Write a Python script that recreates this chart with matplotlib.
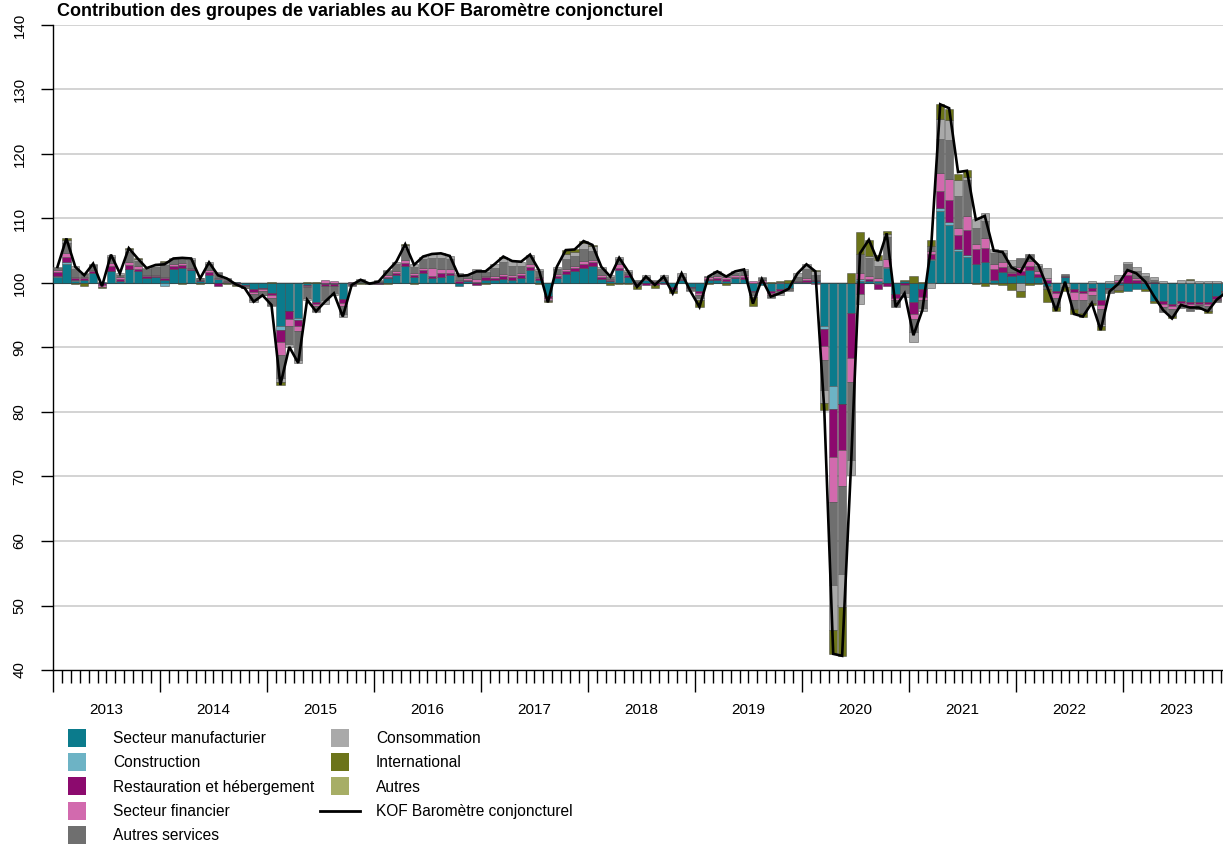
import numpy as np
import matplotlib
matplotlib.use("Agg")
import matplotlib.pyplot as plt
from matplotlib.lines import Line2D
import matplotlib.transforms as mtransforms

plt.rcParams['font.family'] = ['Liberation Sans', 'DejaVu Sans']

# ---------------- data (monthly, Jan 2013 - Dec 2023) ----------------
years = list(range(2013, 2024))

kof = [
    102.5, 106.9, 102.5, 101.2, 103.0, 99.5, 104.4, 101.5, 105.4, 103.8, 102.3, 102.8,   # 2013
    102.9, 103.8, 103.9, 103.8, 100.7, 103.2, 101.2, 100.7, 99.8, 99.2, 97.1, 98.1,       # 2014
    96.6, 84.2, 90.1, 87.6, 97.4, 95.6, 97.1, 98.4, 94.8, 99.7, 100.5, 99.9,              # 2015
    100.2, 101.8, 103.3, 106.0, 102.8, 104.1, 104.5, 104.6, 104.2, 101.1, 101.2, 101.8,   # 2016
    101.8, 102.9, 104.1, 103.4, 103.3, 104.4, 102.0, 97.0, 102.5, 105.1, 105.2, 106.5,    # 2017
    105.9, 102.5, 101.0, 103.9, 101.8, 99.4, 101.0, 99.7, 101.0, 98.4, 101.5, 98.7,       # 2018
    96.3, 101.0, 101.8, 101.0, 101.8, 102.1, 96.8, 100.6, 97.9, 98.4, 99.1, 101.5,        # 2019
    102.9, 101.8, 80.3, 42.5, 42.2, 71.8, 104.6, 106.7, 103.4, 107.7, 96.3, 98.4,         # 2020
    91.9, 95.8, 105.9, 127.7, 127.1, 117.2, 117.4, 109.8, 110.4, 105.0, 104.8, 102.4,     # 2021
    101.7, 104.2, 102.8, 99.4, 95.7, 100.2, 95.2, 94.8, 96.9, 92.7, 98.7, 99.9,           # 2022
    102.0, 101.5, 100.2, 97.9, 95.8, 94.5, 96.6, 96.2, 96.2, 95.6, 97.4, 98.5,            # 2023
]

manufacturier = [
    1.0, 3.0, 0.3, 0.5, 1.5, 0.2, 1.8, 0.3, 2.1, 1.8, 0.8, 0.9,
    0.5, 2.2, 2.4, 2.0, 0.3, 1.3, 0.6, 0.1, 0.1, -0.3, -1.0, -0.8,
    -1.5, -6.7, -4.3, -5.5, -0.3, -3.0, -0.2, -0.2, -2.5, -0.1, 0.1, 0.1,
    0.2, 0.8, 1.2, 2.6, 1.0, 1.6, 0.7, 1.0, 1.2, -0.5, 0.3, 0.2,
    0.5, 0.4, 0.6, 0.5, 0.8, 2.0, 0.4, -2.0, 0.8, 1.4, 1.8, 2.3,
    2.7, 0.6, 0.3, 2.0, 1.0, -0.2, 0.4, 0.2, 0.3, -0.6, 0.5, -0.6,
    -1.3, 0.4, 0.4, 0.3, 0.8, 0.6, -1.2, -0.3, -1.3, -1.0, -0.8, 0.2,
    0.2, 0.3, -6.6, -16.0, -18.7, -4.7, 0.3, 0.3, 0.3, 2.3, -1.7, 0.3,
    -3.0, -1.0, 3.5, 11.2, 9.0, 5.0, 4.0, 2.9, 3.2, 0.4, 1.7, 1.1,
    1.2, 2.0, 0.9, -0.4, -1.3, 0.9, -1.0, -1.3, -0.8, -2.6, -0.8, -0.3,
    -1.3, -1.0, -1.0, -2.8, -2.8, -3.3, -2.8, -2.9, -2.9, -3.0, -2.0, -1.2,
]
construction = [
    0.1, 0.2, 0.1, 0.0, 0.0, 0.0, 0.1, 0.0, 0.1, 0.0, 0.0, 0.0,
    -0.5, 0.0, 0.0, 0.0, 0.0, 0.0, 0.0, 0.0, 0.0, 0.0, 0.0, 0.0,
    0.0, -0.6, -0.1, -0.2, 0.0, 0.0, 0.0, 0.0, 0.0, 0.0, 0.0, 0.0,
    0.0, 0.0, 0.0, 0.0, 0.0, 0.0, 0.0, 0.0, 0.0, 0.0, 0.0, 0.0,
    0.0, 0.0, 0.0, 0.0, 0.0, 0.0, 0.0, 0.0, 0.0, 0.0, 0.0, 0.0,
    0.0, 0.0, 0.0, 0.0, 0.0, 0.0, 0.0, 0.0, 0.0, 0.0, 0.0, 0.0,
    0.0, 0.0, 0.0, 0.0, 0.0, 0.0, 0.0, 0.0, 0.0, 0.0, 0.0, 0.0,
    0.0, 0.0, -0.5, -3.6, -0.1, 0.0, 0.3, 0.0, -0.1, 0.2, 0.0, 0.0,
    0.0, 0.0, 0.2, 0.5, 0.4, 0.3, 0.3, 0.0, 0.0, 0.0, 0.0, 0.0,
    0.0, 0.0, 0.0, 0.0, 0.0, 0.0, 0.0, 0.0, 0.0, 0.0, 0.0, 0.0,
    0.0, 0.0, 0.0, 0.0, 0.0, 0.0, 0.0, 0.0, 0.0, 0.0, 0.0, 0.0,
]
restauration = [
    0.6, 0.8, 0.3, 0.3, 0.3, -0.3, 0.8, 0.3, 0.6, 0.4, 0.3, 0.2,
    0.3, 0.4, 0.4, 0.2, 0.1, 0.4, -0.5, 0.1, -0.2, -0.1, -0.4, -0.2,
    -0.4, -1.8, -1.2, -1.0, -0.2, -0.3, -0.3, -0.2, -0.6, -0.2, 0.0, 0.0,
    -0.1, 0.2, 0.4, 0.5, 0.3, 0.4, 0.4, 0.5, 0.4, 0.3, 0.2, -0.3,
    0.4, 0.4, 0.5, 0.4, 0.4, 0.5, 0.4, -0.3, 0.3, 0.4, 0.5, 0.7,
    0.5, 0.4, 0.2, 0.4, 0.2, -0.1, -0.3, -0.3, -0.2, -0.3, 0.1, -0.2,
    -0.3, 0.2, 0.3, 0.3, 0.2, 0.3, -0.2, 0.2, -0.2, -0.2, 0.0, 0.1,
    0.3, 0.2, -2.6, -7.4, -7.1, -7.0, -1.7, 0.3, -0.8, -0.4, -0.6, -0.3,
    -1.8, -1.2, 0.8, 2.6, 3.5, 2.2, 3.9, 2.3, 2.3, 1.8, 0.8, 0.4,
    0.6, 0.6, 0.5, 0.5, -0.3, 0.2, -0.4, -0.3, -0.5, -0.8, -0.2, 0.2,
    1.2, 0.4, 0.2, 0.2, -0.4, -0.3, -0.3, -0.4, -0.3, -0.3, -0.5, -0.2,
]
financier = [
    0.3, 0.6, 0.3, 0.2, 0.2, -0.3, 0.4, 0.3, 0.4, 0.4, 0.2, 0.2,
    0.2, 0.3, 0.3, 0.2, 0.0, 0.3, 0.2, 0.1, 0.1, 0.0, -0.3, -0.2,
    -0.4, -2.0, -1.0, -0.8, -0.1, -0.2, 0.4, 0.3, -0.5, 0.1, 0.0, 0.0,
    0.0, 0.3, 0.3, 0.4, 0.2, 0.3, 1.2, 0.6, 0.6, 0.2, 0.2, 0.4,
    0.2, 0.3, 0.3, 0.3, 0.3, 0.5, 0.2, -0.3, 0.3, 0.3, 0.3, 0.4,
    0.3, 0.3, 0.1, 0.5, 0.2, 0.2, 0.2, 0.1, 0.2, 0.0, 0.0, 0.0,
    -0.2, 0.3, 0.4, 0.3, 0.2, 0.3, 0.3, 0.2, -0.3, 0.2, 0.0, 0.0,
    0.2, -0.2, -2.2, -6.9, -5.6, -3.6, 1.0, 0.5, 0.4, 1.2, -0.3, 0.0,
    -0.8, -0.4, 0.5, 2.7, 3.3, 1.1, 2.2, 0.8, 1.4, 0.7, 0.8, 0.2,
    0.7, 0.8, 0.4, 0.3, -0.8, 0.0, -1.2, -1.0, -0.5, -0.7, 0.0, 0.2,
    0.7, 0.3, 0.1, 0.0, -0.5, -0.4, -0.3, -0.3, -0.2, -0.2, -0.2, 0.0,
]
autres_services = [
    0.4, 1.6, 1.2, 0.4, 0.8, 0.0, 1.0, 0.4, 1.6, 0.8, 0.8, 1.2,
    1.8, 0.8, 0.8, 1.2, 0.3, 1.0, 0.7, 0.3, -0.1, -0.3, -1.0, -0.6,
    -1.1, -3.7, -2.9, -4.5, -1.8, -0.8, -2.2, -1.1, -1.2, -0.2, 0.2, -0.1,
    0.1, 0.5, 1.0, 1.8, 1.0, 1.4, 1.6, 1.8, 1.5, 0.7, 0.4, 1.1,
    0.6, 1.2, 1.8, 1.5, 1.2, 1.0, 0.8, 0.0, 0.8, 1.6, 1.6, 1.8,
    1.5, 0.9, 0.4, 0.8, 0.3, 0.2, 0.4, 0.0, 0.4, -0.4, 0.4, -0.3,
    -0.6, 0.2, 0.5, 0.3, 0.4, 0.6, -0.5, 0.3, -0.3, -0.4, -0.3, 0.7,
    1.5, 0.8, -4.7, -12.9, -13.6, -12.1, 2.9, 2.8, 2.0, 3.4, -1.1, -1.2,
    -2.0, -1.2, 0.8, 5.3, 6.0, 4.9, 5.6, 2.6, 2.7, 1.7, 1.3, 1.0,
    1.4, 1.1, 0.8, -0.6, -1.3, 0.3, -1.3, -1.9, -1.3, -2.3, -0.6, -0.8,
    1.0, 1.2, 0.8, 0.3, -0.8, -1.0, -0.5, -0.8, -0.6, -0.8, -0.2, -0.3,
]
consommation = [
    0.1, 0.5, 0.5, 0.2, 0.2, 0.0, 0.3, 0.2, 0.4, 0.3, 0.2, 0.3,
    0.4, 0.1, 0.1, 0.2, 0.1, 0.2, 0.2, 0.2, 0.0, 0.0, -0.2, -0.1,
    -0.2, -0.5, -0.4, -0.4, -0.3, -0.2, -0.6, -0.4, -0.4, 0.1, 0.3, -0.1,
    0.1, 0.2, 0.4, 0.6, 0.5, 0.4, 0.6, 0.7, 0.5, 0.4, 0.1, 0.4,
    0.3, 0.6, 0.7, 0.7, 0.6, 0.4, 0.4, -0.2, 0.3, 0.8, 0.6, 1.0,
    0.7, 0.3, 0.3, 0.3, 0.3, -0.2, 0.3, 0.2, 0.3, 0.0, 0.5, -0.2,
    -0.2, 0.0, 0.2, 0.1, 0.2, 0.3, -0.2, 0.2, -0.2, -0.3, -0.2, 0.5,
    0.7, 0.5, -2.0, -7.0, -5.1, -2.4, -1.6, 0.3, 0.8, 0.5, 0.0, -0.6,
    -1.6, -0.6, -0.7, 3.1, 3.1, 2.4, 0.5, 1.3, 1.3, 0.6, 0.5, 0.8,
    -1.2, 0.0, 0.4, 1.5, 0.0, -0.6, -0.2, -0.2, 0.3, -0.2, 0.3, 0.9,
    0.4, 0.6, 0.4, 0.5, 0.3, -0.1, 0.5, 0.4, 0.3, 0.3, 0.3, 0.2,
]
international = [
    0.0, 0.2, -0.2, -0.4, 0.0, -0.1, 0.0, 0.0, 0.2, 0.1, 0.0, 0.0,
    0.2, 0.0, -0.1, 0.0, -0.1, 0.0, 0.0, -0.1, -0.1, -0.1, 0.0, 0.0,
    0.2, -0.5, 0.0, 0.0, 0.1, 0.1, 0.0, 0.0, 0.0, 0.0, -0.1, 0.0,
    -0.1, -0.2, 0.0, 0.1, -0.2, 0.0, 0.0, 0.0, 0.0, 0.0, 0.0, 0.0,
    -0.2, 0.0, 0.2, 0.0, 0.0, 0.0, -0.2, -0.2, 0.0, 0.6, 0.4, 0.3,
    0.2, 0.0, -0.3, -0.1, -0.2, -0.5, 0.0, -0.5, 0.0, -0.3, 0.0, 0.0,
    -1.1, -0.1, 0.0, -0.3, 0.0, 0.0, -1.4, 0.0, 0.2, 0.1, 0.4, 0.0,
    0.0, 0.2, -1.1, -3.7, -7.6, 1.6, 3.4, 2.5, 0.8, 0.5, 0.0, 0.2,
    1.1, 0.2, 0.8, 2.3, 1.7, 1.0, 1.0, -0.1, -0.5, -0.2, -0.3, -1.1,
    -1.0, -0.3, -0.2, -1.9, -0.6, -0.6, -0.7, -0.5, -0.3, -0.7, 0.0, -0.3,
    0.0, 0.0, -0.3, -0.3, 0.0, -0.4, 0.0, 0.2, -0.1, -0.4, 0.0, 0.0,
]
autres = [
    0.0, 0.0, 0.0, 0.0, 0.0, 0.0, 0.0, 0.0, 0.0, 0.0, 0.0, 0.0,
    0.0, 0.0, 0.0, 0.0, 0.0, 0.0, 0.0, 0.0, 0.0, 0.0, 0.0, 0.0,
    0.0, 0.0, 0.0, 0.0, 0.0, 0.0, 0.0, 0.0, 0.0, 0.0, 0.0, 0.0,
    0.0, 0.0, 0.0, 0.0, 0.0, 0.0, 0.0, 0.0, 0.0, 0.0, 0.0, 0.0,
    0.0, 0.0, 0.0, 0.0, 0.0, 0.0, 0.0, 0.0, 0.0, 0.0, 0.0, 0.0,
    0.0, 0.0, 0.0, 0.0, 0.0, 0.0, 0.0, 0.0, 0.0, 0.0, 0.0, 0.0,
    0.0, 0.0, 0.0, 0.0, 0.0, 0.0, 0.0, 0.0, 0.0, 0.0, 0.0, 0.0,
    0.0, 0.0, 0.0, 0.0, 0.0, 0.0, 0.0, 0.0, 0.0, 0.0, 0.0, 0.0,
    0.0, 0.0, 0.0, 0.0, 0.0, 0.0, 0.0, 0.0, 0.0, 0.0, 0.0, 0.0,
    0.0, 0.0, 0.0, 0.0, 0.0, 0.0, 0.0, 0.0, 0.0, 0.0, 0.0, 0.0,
    0.0, 0.0, 0.0, 0.0, 0.0, 0.0, 0.0, 0.0, 0.0, 0.0, 0.0, 0.0,
]

series_names = ["Secteur manufacturier", "Construction", "Restauration et hébergement",
                "Secteur financier", "Autres services", "Consommation",
                "International", "Autres"]
series_values = [manufacturier, construction, restauration, financier,
                 autres_services, consommation, international, autres]
series_colors = ["#0b7b8c", "#6db3c5", "#8c0a6e", "#d26aae",
                 "#6f6f6f", "#a9a9a9", "#6c7419", "#a7ae66"]
line_label = "KOF Baromètre conjoncturel"
title = "Contribution des groupes de variables au KOF Baromètre conjoncturel"

# ---------------- figure ----------------
W, H = 1223, 846
fig = plt.figure(figsize=(W / 100, H / 100), dpi=100)
ax_l, ax_r, ax_t, ax_b = 53, 1223, 25, 670
ax = fig.add_axes([ax_l / W, 1 - ax_b / H, (ax_r - ax_l) / W, (ax_b - ax_t) / H])

n = len(kof)
x = 2013 + (np.arange(n) + 0.5) / 12.0
bw = 1 / 12.0 * 0.93

base = 100.0
pos_bottom = np.full(n, base)
neg_bottom = np.full(n, base)
for vals, col in zip(series_values, series_colors):
    v = np.asarray(vals, dtype=float)
    p = v > 0
    if p.any():
        ax.bar(x[p], v[p], bottom=pos_bottom[p], width=bw, color=col,
               edgecolor=(0.25, 0.25, 0.25, 0.55), linewidth=0.6, zorder=3)
    q = v < 0
    if q.any():
        ax.bar(x[q], v[q], bottom=neg_bottom[q], width=bw, color=col,
               edgecolor=(0.25, 0.25, 0.25, 0.55), linewidth=0.6, zorder=3)
    pos_bottom = pos_bottom + np.where(p, v, 0)
    neg_bottom = neg_bottom + np.where(q, v, 0)

ax.axhline(100, color="#3a3a3a", lw=0.8, zorder=2.5)
ax.plot(x, kof, color="black", lw=1.9, zorder=5, solid_joinstyle="miter")

# axes
ax.set_ylim(40, 140)
xmin = 2013.0
xmax = 2013.0 + (ax_r - ax_l) / 107.0
ax.set_xlim(xmin, xmax)
ax.set_yticks(np.arange(40, 141, 10))
for yv in range(50, 141, 10):
    ax.axhline(yv, color="#d0d0d0", lw=1.3, zorder=1)

ax.spines["top"].set_visible(False)
ax.spines["right"].set_visible(False)
ax.spines["left"].set_linewidth(1.0)
ax.spines["bottom"].set_linewidth(1.0)
ax.tick_params(axis="y", direction="out", length=9, width=1.0, pad=10, labelsize=10.8)
for lab in ax.get_yticklabels():
    lab.set_rotation(90)
    lab.set_va("center")

ax.set_xticks(np.arange(2013, 2024, 1.0))
ax.set_xticklabels([])
ax.set_xticks(np.arange(2013, 2024, 1 / 12.0), minor=True)
ax.tick_params(axis="x", which="major", direction="out", length=16, width=1.0)
ax.tick_params(axis="x", which="minor", direction="out", length=9.5, width=1.0)

trans = mtransforms.blended_transform_factory(ax.transData, ax.transAxes)
for yr in years:
    ax.text(yr + 0.5, -(710 - ax_b) / (ax_b - ax_t), str(yr), transform=trans,
            ha="center", va="center", fontsize=11)

# title, kept just inside the top edge
fig.text(57 / W, 1 - 16 / H, title, fontsize=13, fontweight="bold", va="baseline", ha="left")

# legend
fs = 11.2
def sq(c):
    return Line2D([], [], marker="s", ls="none", markersize=13.5,
                  markerfacecolor=c, markeredgecolor=c, markeredgewidth=0)

h1 = [sq(c) for c in series_colors[:5]]
h2 = [sq(c) for c in series_colors[5:]] + [Line2D([], [], color="black", lw=2)]
common = dict(frameon=False, fontsize=fs, handlelength=2.55, handletextpad=1.05,
              labelspacing=0.60, borderpad=0, borderaxespad=0, loc="upper left")
leg1 = fig.legend(h1, series_names[:5], bbox_to_anchor=(57 / W, 1 - 731 / H), **common)
leg2 = fig.legend(h2, series_names[5:] + [line_label],
                  bbox_to_anchor=(320 / W, 1 - 731 / H), **common)

fig.savefig("out.png", dpi=100)
